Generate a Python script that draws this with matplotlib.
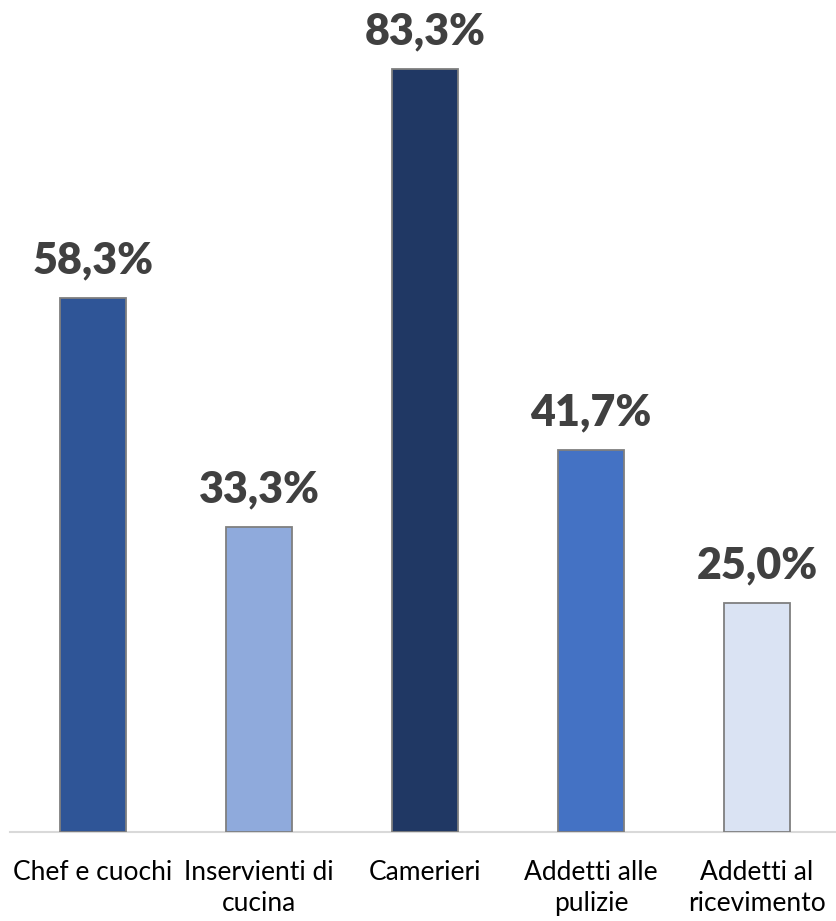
import matplotlib
matplotlib.use("Agg")
import matplotlib.pyplot as plt

categories = ["Chef e cuochi", "Inservienti di\ncucina", "Camerieri", "Addetti alle\npulizie", "Addetti al\nricevimento"]
values = [58.3, 33.3, 83.3, 41.7, 25.0]
labels = ["58,3%", "33,3%", "83,3%", "41,7%", "25,0%"]
colors = ["#2F5597", "#8FAADC", "#203864", "#4472C4", "#DAE3F3"]

W, H = 837, 921
fig = plt.figure(figsize=(W / 100, H / 100), dpi=100)
left, right, base = 10, 837, 832
ax = fig.add_axes([left / W, (H - base) / H, (right - left) / W, base / H])

x = list(range(len(categories)))
ax.bar(x, values, width=0.4, color=colors, edgecolor="#7F7F7F", linewidth=1.3, zorder=3)

slot = 166.0
ax.set_xlim(-0.5, -0.5 + (right - left) / slot)
ppu = 763 / 83.3
ax.set_ylim(0, base / ppu)

for xi, v, lab in zip(x, values, labels):
    ax.annotate(lab, (xi, v), xytext=(0, 18), textcoords="offset points",
                ha="center", va="baseline", fontsize=31, fontweight="heavy",
                color="#404040", family=["Lato", "DejaVu Sans"])

ax.set_xticks(x)
ax.set_xticklabels(categories, fontsize=19, color="#000000", family=["Lato", "DejaVu Sans"],
                   linespacing=1.3)
ax.tick_params(axis="x", length=0, pad=20)
ax.set_yticks([])
for s in ["top", "left", "right"]:
    ax.spines[s].set_visible(False)
ax.spines["bottom"].set_color("#D9D9D9")
ax.spines["bottom"].set_linewidth(1.5)
ax.patch.set_alpha(0)

fig.savefig("out.png", dpi=100, facecolor="white")
